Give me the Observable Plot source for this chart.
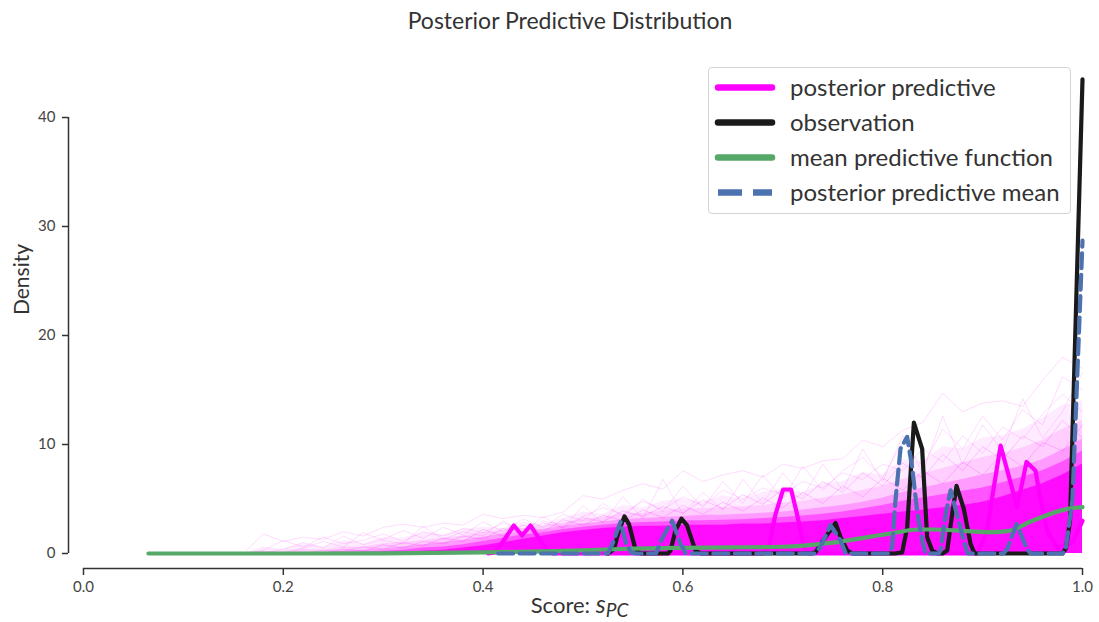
<!DOCTYPE html>
<html>
<head>
<meta charset="utf-8">
<script src="https://cdn.jsdelivr.net/npm/d3@7"></script>
<script src="https://cdn.jsdelivr.net/npm/@observablehq/plot@0.6"></script>
<style>
  body { margin: 0; background: #fff; }
  #wrap { position: relative; width: 1099px; height: 622px; overflow: hidden; font-family: Lato, "Open Sans", sans-serif; color: #333; }
  #title { position: absolute; top: 0; left: 0; width: 1140px; height: 40px; line-height: 40px; text-align: center; font-size: 23px; color: #333; }
  #chart { position: absolute; top: 40px; left: 0; }
  #chart svg { overflow: visible; }
  #legend { position: absolute; left: 708px; top: 67px; width: 361px; height: 145px; border: 1.5px solid #d4d4d4; border-radius: 4px; background: rgba(255,255,255,0.85); }
</style>
</head>
<body>
<div id="wrap">
  <div id="title">Posterior Predictive Distribution</div>
  <div id="chart"></div>
  <div id="legend"></div>
</div>
<script>
// ---- observation density (black) ----
const obsX = [0.525, 0.531, 0.536, 0.5415, 0.546, 0.5525, 0.558, 0.585, 0.5876, 0.5926, 0.5985, 0.604, 0.6126, 0.618,
              0.728, 0.7327, 0.7427, 0.7528, 0.7578, 0.7645, 0.770, 0.812, 0.8195, 0.8245, 0.8312, 0.8395, 0.8445, 0.8495, 0.855,
              0.860, 0.8646, 0.8695, 0.8739, 0.8812, 0.8879, 0.892, 0.980, 0.9835, 0.9875, 1.0];
const obsY = [0, 0.4, 2.1, 3.4, 2.7, 0.4, 0, 0, 0.27, 2.1, 3.2, 2.6, 0.27, 0,
              0, 0.1, 1.5, 2.8, 1.5, 0.27, 0, 0, 0.1, 2.4, 12.0, 9.6, 1.5, 0.27, 0,
              0, 0.27, 3.6, 6.2, 4.1, 0.9, 0, 0, 0.5, 3.0, 43.5];

// ---- posterior predictive mean (blue dashed) ----
const meanX = [0.415, 0.525, 0.530, 0.5375, 0.543, 0.548, 0.553, 0.573, 0.579, 0.5892, 0.5976, 0.603,
               0.732, 0.7377, 0.7477, 0.7578, 0.763, 0.806, 0.8095, 0.8128, 0.8178, 0.8245, 0.8295, 0.8345, 0.8395, 0.843,
               0.856, 0.858, 0.863, 0.868, 0.876, 0.881, 0.885, 0.921, 0.9246, 0.934, 0.9446, 0.948, 0.980, 0.983, 0.990, 1.0];
const meanY = [0, 0, 1.0, 2.9, 1.0, 0.1, 0, 0, 1.35, 3.0, 0.9, 0,
               0, 0.6, 2.6, 1.2, 0, 0, 0.6, 4.9, 9.6, 10.7, 7.9, 3.9, 1.2, 0,
               0, 0.3, 3.6, 5.8, 3.0, 1.2, 0, 0, 0.4, 2.7, 0.4, 0, 0, 0.3, 5.0, 28.7];

// ---- one posterior predictive draw (bold magenta) ----
const drawX = [0.405, 0.4124, 0.4308, 0.439, 0.4474, 0.464, 0.47, 0.68, 0.686, 0.6927, 0.7003, 0.7083, 0.7143, 0.721, 0.727,
               0.895, 0.9045, 0.908, 0.918, 0.9346, 0.944, 0.953, 0.958, 0.965, 0.975, 0.99, 1.0];
const drawY = [0, 0.1, 2.57, 1.65, 2.57, 0.27, 0, 0, 0.6, 3.6, 5.87, 5.87, 3.6, 0.6, 0,
               0, 2.1, 4.25, 9.9, 4.25, 8.4, 7.6, 4.9, 2.0, 0.5, 1.0, 3.0];

// ---- mean predictive function (green) ----
const funcX = [0.065, 0.2, 0.3, 0.35, 0.4, 0.45, 0.5, 0.55, 0.6, 0.65, 0.7, 0.75, 0.785, 0.81, 0.835, 0.85, 0.885, 0.91, 0.925, 0.95, 0.985, 1.0];
const funcY = [0, 0, 0.02, 0.05, 0.1, 0.18, 0.3, 0.45, 0.52, 0.56, 0.62, 1.0, 1.5, 1.87, 2.2, 2.2, 2.05, 1.96, 2.05, 3.0, 4.1, 4.25];

// ---- spread of the posterior predictive draws ----
const cloudX = [0.16, 0.18, 0.20, 0.22, 0.24, 0.26, 0.28, 0.30, 0.32, 0.34, 0.36, 0.38, 0.40, 0.42, 0.44, 0.46, 0.48, 0.50,
                0.52, 0.54, 0.56, 0.58, 0.60, 0.62, 0.64, 0.66, 0.68, 0.70, 0.72, 0.74, 0.76, 0.78, 0.80, 0.82, 0.84, 0.86,
                0.88, 0.90, 0.92, 0.94, 0.96, 0.98, 1.00];
// nested bands, widest (lightest) to narrowest (densest)
const bandOuter = [0, 0.6, 0.4, 0.9, 0.6, 1.2, 0.9, 1.5, 1.4, 1.9, 1.7, 2.2, 2.4, 2.3, 2.9, 2.6, 3.2, 3.8,
                   3.6, 4.4, 4.2, 4.8, 5.0, 4.7, 5.3, 5.0, 5.6, 5.9, 5.6, 6.4, 6.6, 7.4, 7.2, 8.6, 8.4, 9.8,
                   9.6, 10.6, 10.8, 11.4, 12.4, 13.6, 14.0];
const bandUpper = [0, 0.2, 0.2, 0.4, 0.3, 0.6, 0.6, 0.9, 1.0, 1.2, 1.4, 1.6, 1.9, 2.1, 2.3, 2.5, 2.8, 3.1,
                   3.3, 3.6, 3.7, 3.9, 4.1, 4.1, 4.2, 4.3, 4.4, 4.6, 4.8, 5.1, 5.4, 5.8, 6.2, 6.8, 7.3, 7.8,
                   8.3, 8.8, 9.2, 9.7, 10.4, 11.4, 12.2];
const bandMid = [0, 0, 0, 0.1, 0.1, 0.2, 0.3, 0.4, 0.6, 0.8, 1.0, 1.2, 1.5, 1.8, 2.0, 2.2, 2.5, 2.7,
                 2.9, 3.1, 3.2, 3.3, 3.4, 3.5, 3.5, 3.6, 3.7, 3.8, 4.0, 4.2, 4.4, 4.7, 5.1, 5.6, 6.0, 6.4,
                 6.8, 7.2, 7.6, 8.0, 8.6, 9.5, 10.5];
const bandInner = [0, 0, 0, 0, 0, 0.05, 0.1, 0.2, 0.3, 0.5, 0.6, 0.8, 1.1, 1.4, 1.7, 1.9, 2.2, 2.4,
                   2.6, 2.75, 2.85, 2.9, 3.0, 3.0, 3.05, 3.1, 3.2, 3.3, 3.45, 3.6, 3.8, 4.1, 4.4, 4.8, 5.1, 5.4,
                   5.7, 6.0, 6.5, 7.0, 7.6, 8.4, 9.4];
const bandCore = [0, 0, 0, 0, 0, 0, 0, 0.05, 0.1, 0.2, 0.3, 0.5, 0.7, 1.0, 1.3, 1.6, 1.9, 2.1,
                  2.3, 2.4, 2.5, 2.5, 2.6, 2.6, 2.6, 2.7, 2.7, 2.8, 2.9, 3.0, 3.2, 3.4, 3.6, 3.8, 4.0, 4.2,
                  4.4, 4.7, 5.2, 5.8, 6.4, 7.2, 8.2];
// individual faint draws
const traceA = [0, 1.8, 1.1, 1.5, 1.3, 2.0, 1.6, 2.4, 2.7, 2.4, 2.8, 2.6, 3.6, 3.2, 3.5, 3.3, 3.8, 5.3,
                5.0, 5.8, 6.4, 5.9, 7.6, 6.6, 7.2, 7.6, 7.0, 8.2, 7.8, 8.5, 8.7, 10.4, 9.8, 11.3, 12.0, 14.7,
                13.0, 13.8, 14.0, 13.5, 15.9, 18.0, 17.0];
const traceB = [0, 0.3, 1.2, 0.6, 1.5, 0.9, 1.2, 1.8, 1.1, 2.0, 1.6, 2.3, 1.9, 2.8, 2.2, 3.0, 2.6, 3.4,
                4.2, 3.6, 4.8, 4.0, 5.2, 4.4, 5.8, 5.0, 6.0, 5.4, 6.6, 6.0, 7.4, 6.8, 8.2, 7.6, 9.6, 8.4,
                10.8, 9.2, 11.6, 10.5, 12.8, 14.6, 13.0];
const traceC = [0, 0, 0.4, 1.0, 0.5, 1.6, 0.8, 1.3, 2.1, 1.4, 2.4, 1.7, 2.9, 2.0, 3.2, 2.4, 3.6, 3.0,
                4.6, 3.4, 5.0, 3.8, 6.2, 4.2, 6.6, 4.6, 7.2, 5.0, 8.0, 5.8, 7.6, 8.8, 7.0, 10.2, 8.0, 11.4,
                9.6, 12.6, 10.4, 13.2, 11.8, 16.2, 15.0];
const traceD = [0, 0, 0, 0.5, 1.1, 0.6, 1.9, 1.2, 0.9, 2.5, 1.3, 2.0, 1.6, 3.0, 1.9, 3.4, 2.3, 4.4,
                2.8, 5.2, 3.2, 6.8, 3.6, 5.6, 4.0, 6.8, 4.6, 7.4, 5.2, 8.2, 5.8, 9.6, 6.6, 10.8, 7.4, 12.6,
                8.2, 11.8, 9.4, 14.2, 10.6, 13.0, 16.6];
const traceE = [0, 0, 0, 0, 0.3, 0.2, 0.6, 0.4, 1.0, 0.7, 1.4, 1.1, 2.2, 1.6, 2.6, 2.0, 3.1, 2.6,
                3.5, 3.0, 4.0, 3.3, 4.4, 3.6, 4.7, 3.9, 5.1, 4.2, 5.6, 4.6, 6.2, 5.2, 6.9, 5.8, 7.6, 6.4,
                8.4, 7.2, 9.2, 8.0, 10.2, 9.4, 11.8];
const traceF = [0, 0, 0, 0, 0, 0.4, 0.2, 0.8, 0.5, 1.1, 0.9, 1.6, 1.3, 2.3, 1.9, 2.8, 2.4, 3.3,
                2.9, 3.9, 3.4, 4.3, 3.7, 4.9, 4.1, 5.4, 4.5, 5.9, 5.0, 6.6, 5.6, 7.4, 6.2, 8.3, 6.9, 9.1,
                7.6, 9.8, 8.6, 10.8, 9.8, 12.2, 10.6];

// ---- axes and legend ----
const xTicks = [0.0, 0.2, 0.4, 0.6, 0.8, 1.0];
const yTicks = [0, 10, 20, 30, 40];
const legendLabels = ["posterior predictive", "observation", "mean predictive function", "posterior predictive mean"];
const legendColors = ["#ff00ff", "#1a1a1a", "#55a868", "#4c72b0"];
const legendDash = [null, null, null, "24,11"];

const MAGENTA = "#ff00ff";
const pts = (xs, ys) => xs.map((x, i) => ({x, y: ys[i]}));
const bands = [[bandOuter, 0.08], [bandUpper, 0.12], [bandMid, 0.25], [bandInner, 0.45], [bandCore, 0.85]];
const traces = [[traceA, 0.14], [traceB, 0.14], [traceC, 0.14], [traceD, 0.14], [traceE, 0.2], [traceF, 0.2]];

const plot = Plot.plot({
  width: 1099,
  height: 582,
  marginLeft: 68,
  marginRight: 17,
  marginTop: 30,
  marginBottom: 54,
  x: {domain: [0, 1], range: [83, 1082]},
  y: {domain: [0, 40], range: [513, 77]},
  style: {fontFamily: "Lato, 'Open Sans', sans-serif", fontSize: "15px", color: "#333", background: "transparent"},
  marks: [
    // spread of draws
    ...bands.map(([b, op]) => Plot.areaY(pts(cloudX, b), {x: "x", y: "y", fill: MAGENTA, fillOpacity: op})),
    ...traces.map(([t, op]) =>
      Plot.line(pts(cloudX, t), {x: "x", y: "y", stroke: MAGENTA, strokeOpacity: op, strokeWidth: 1})),
    // highlighted draw
    Plot.line(pts(drawX, drawY), {x: "x", y: "y", stroke: MAGENTA, strokeWidth: 4.2, strokeLinejoin: "round"}),
    // observation
    Plot.line(pts(obsX, obsY), {x: "x", y: "y", stroke: "#1a1a1a", strokeWidth: 4.2, strokeLinejoin: "round"}),
    // mean predictive function
    Plot.line(pts(funcX, funcY), {x: "x", y: "y", stroke: "#55a868", strokeWidth: 4.2, curve: "monotone-x"}),
    // posterior predictive mean
    Plot.line(pts(meanX, meanY), {x: "x", y: "y", stroke: "#4c72b0", strokeWidth: 4.2, strokeDasharray: "15,6.5", strokeLinejoin: "round"}),
    // offset spines, trimmed to the tick range
    Plot.ruleX([0], {y1: 0, y2: 40, dx: -15, stroke: "#333", strokeWidth: 1.5}),
    Plot.ruleY([0], {x1: 0, x2: 1, dy: 15, stroke: "#333", strokeWidth: 1.5}),
    Plot.axisX({ticks: xTicks, tickFormat: d3.format(".1f"), tickSize: 7, tickPadding: 6, label: null, stroke: "#333", strokeWidth: 1.5, fill: "#444"}),
    Plot.axisY({ticks: yTicks, tickSize: 6, tickPadding: 7, label: null, stroke: "#333", strokeWidth: 1.5, fill: "#444"}),
    // axis titles
    Plot.text(["Density"], {frameAnchor: "top-left", rotate: -90, textAnchor: "middle", lineAnchor: "middle", dx: -46, dy: 209, fontSize: 21, fill: "#333"}),
    Plot.text(["Score: s_PC"], {frameAnchor: "bottom", textAnchor: "middle", lineAnchor: "middle", dx: 4, dy: 37, fontSize: 22, fill: "#333"})
  ]
});

// typeset the x label with an italic subscripted symbol
d3.select(plot).selectAll("text").filter(function () { return this.textContent === "Score: s_PC"; })
  .each(function () {
    const t = d3.select(this);
    t.text(null);
    t.append("tspan").text("Score: ");
    t.append("tspan").attr("font-style", "italic").attr("font-size", 25).text("s");
    t.append("tspan").attr("font-style", "italic").attr("font-size", 19).attr("dy", 4).text("PC");
  });

document.getElementById("chart").appendChild(plot);

// legend
const lg = d3.select("#legend").append("svg").attr("width", 361).attr("height", 145)
  .style("position", "absolute").style("left", 0).style("top", 0);
legendLabels.forEach((label, i) => {
  const cy = 19.5 + i * 35;
  lg.append("line").attr("x1", 9).attr("x2", 63).attr("y1", cy).attr("y2", cy)
    .attr("stroke", legendColors[i]).attr("stroke-width", 6.5)
    .attr("stroke-linecap", legendDash[i] ? "butt" : "round")
    .attr("stroke-dasharray", legendDash[i]);
  lg.append("text").attr("x", 81).attr("y", cy).attr("dy", "0.35em")
    .attr("font-family", "Lato, 'Open Sans', sans-serif").attr("font-size", 24).attr("fill", "#333")
    .text(label);
});
</script>
</body>
</html>
